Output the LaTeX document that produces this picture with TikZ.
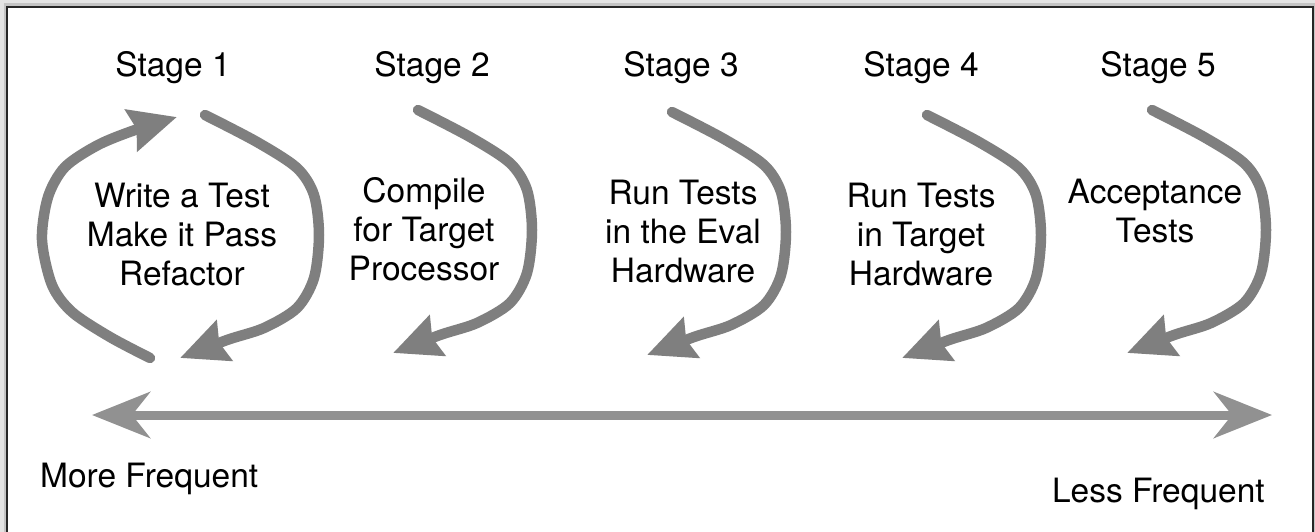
\documentclass[tikz,border=0pt]{standalone}
\usepackage{fontspec}
\setmainfont{TeX Gyre Heros}
\usetikzlibrary{arrows.meta}

\definecolor{loopgray}{HTML}{7F7F7F}
\definecolor{axisgray}{HTML}{919191}
\definecolor{pagegray}{HTML}{E4E4E4}
\definecolor{shadegray}{HTML}{C4C4C4}
\definecolor{frameline}{HTML}{262626}

\tikzset{
  looptip/.tip={Stealth[length=47pt,width=42pt,inset=5pt]},
  looparrow/.style={draw=loopgray, line width=10.5pt, line cap=round, -looptip},
  axistip/.tip={Stealth[length=58pt,width=46pt,inset=18pt]},
  axisarrow/.style={draw=axisgray, line width=9pt, axistip-axistip},
  label/.style={font=\fontsize{33.5}{39}\selectfont, inner sep=0pt, align=center},
  pics/downloop/.style={code={
    \draw[looparrow] plot[smooth] coordinates
      {(0,0) (52,27) (92,53) (109,80) (114,120) (109,163) (92,193) (59,213) (22,225) (-25,243)};
  }},
}

\begin{document}
\begin{tikzpicture}[x=1pt,y=-1pt]
  \useasboundingbox (0,0) rectangle (1315,532);
  \clip (0,0) rectangle (1315,532);

  % page background and frame
  \fill[pagegray] (0,0) rectangle (1315,532);
  \draw[shadegray, line width=3pt] (5,5) rectangle (1313,560);
  \draw[frameline, line width=2.5pt, fill=white] (7,7) rectangle (1313,560);

  % stage titles
  \node[label, anchor=base] (t1) at (173,77) {Stage 1};
  \node[label, anchor=base] (t2) at (432,77) {Stage 2};
  \node[label, anchor=base] (t3) at (681,77) {Stage 3};
  \node[label, anchor=base] (t4) at (921,77) {Stage 4};
  \node[label, anchor=base] (t5) at (1158,77) {Stage 5};

  % stage descriptions (anchored on the baseline of their last line)
  \node[label, anchor=base] (d1) at (182,285) {Write a Test\\Make it Pass\\Refactor};
  \node[label, anchor=base] (d2) at (424,280) {Compile\\for Target\\Processor};
  \node[label, anchor=base] (d3) at (683,282) {Run Tests\\in the Eval\\Hardware};
  \node[label, anchor=base] (d4) at (921,285) {Run Tests\\in Target\\Hardware};
  \node[label, anchor=base] (d5) at (1155,242) {Acceptance\\Tests};

  % the test-driven cycle of stage 1
  \draw[looparrow] plot[smooth] coordinates
    {(150,358) (110,337) (72,312) (52,285) (42,240) (48,197) (65,167) (98,145) (135,130) (177,117)};
  \pic at (205,115) {downloop};

  % single pass loops of stages 2 to 5
  \pic at (418,110) {downloop};
  \pic at (672,112) {downloop};
  \pic at (927,115) {downloop};
  \pic at (1152,110) {downloop};

  % frequency axis
  \coordinate (more) at (92,415);
  \coordinate (less) at (1272,415);
  \draw[axisarrow] (more) -- (less);
  \node[label, anchor=base west] (mf) at (40,487) {More Frequent};
  \node[label, anchor=base east] (lf) at (1265,502) {Less Frequent};
\end{tikzpicture}
\end{document}
